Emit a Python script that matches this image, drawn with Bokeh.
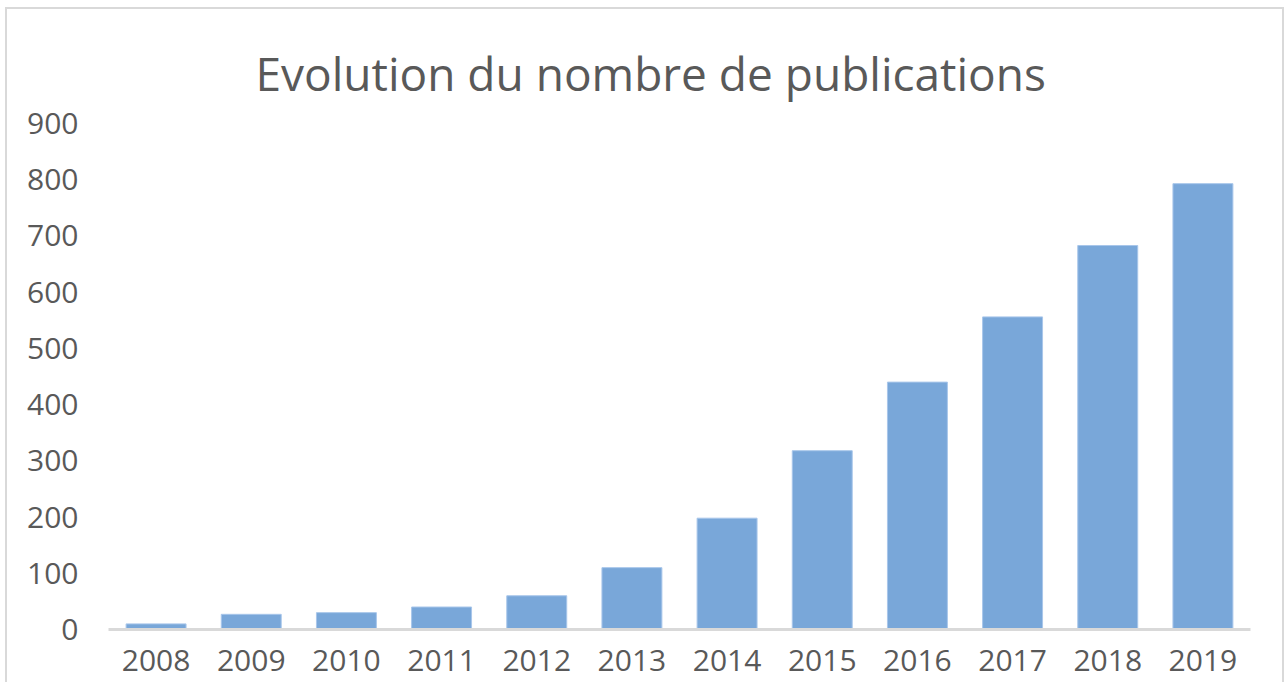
from bokeh.plotting import figure
from bokeh.embed import file_html
from bokeh.resources import INLINE
from bokeh.models import ColumnDataSource

years = ["2008", "2009", "2010", "2011", "2012", "2013",
         "2014", "2015", "2016", "2017", "2018", "2019"]
publications = [10, 27, 30, 40, 60, 110, 198, 318, 440, 556, 683, 793]
y_ticks = [0, 100, 200, 300, 400, 500, 600, 700, 800, 900]

title_text = "Evolution du nombre de publications"
text_color = "#595959"
bar_color = "#79a7d9"
font = "Open Sans"

source = ColumnDataSource(data=dict(years=years, publications=publications))

p = figure(
    x_range=years,
    y_range=(0, 900),
    width=1279,
    height=675,
    output_backend="svg",
    toolbar_location=None,
    min_border_left=101,
    min_border_right=36,
    min_border_top=114,
    min_border_bottom=55,
)
p.styles = {"border": "2px solid #d9d9d9", "border-bottom": "none",
            "margin-left": "5px", "margin-top": "7px"}

p.vbar(x="years", top="publications", width=0.63, source=source,
       fill_color=bar_color, line_color="#a8c6ea", line_width=1)

p.title.text = title_text
p.title.align = "left"
p.title.offset = 147
p.title.text_font = font
p.title.text_font_size = "46px"
p.title.text_font_style = "normal"
p.title.text_color = text_color
p.title.standoff = 40

p.xgrid.visible = False
p.ygrid.visible = False
p.outline_line_color = None
p.background_fill_color = "white"
p.border_fill_color = "white"
p.x_range.range_padding = 0.0

p.yaxis.ticker = y_ticks
p.yaxis.axis_line_color = None
p.yaxis.major_tick_line_color = None
p.yaxis.minor_tick_line_color = None
p.yaxis.major_tick_out = 0
p.yaxis.major_tick_in = 0
p.yaxis.major_label_standoff = 30
p.yaxis.major_label_text_font = font
p.yaxis.major_label_text_font_size = "30px"
p.yaxis.major_label_text_color = text_color

p.xaxis.axis_line_color = "#d9d9d9"
p.xaxis.axis_line_width = 3
p.xaxis.major_tick_line_color = None
p.xaxis.minor_tick_line_color = None
p.xaxis.major_tick_out = 0
p.xaxis.major_tick_in = 0
p.xaxis.major_label_standoff = 20
p.xaxis.major_label_text_font = font
p.xaxis.major_label_text_font_size = "30px"
p.xaxis.major_label_text_color = text_color

open("out.html", "w").write(file_html(p, INLINE))
